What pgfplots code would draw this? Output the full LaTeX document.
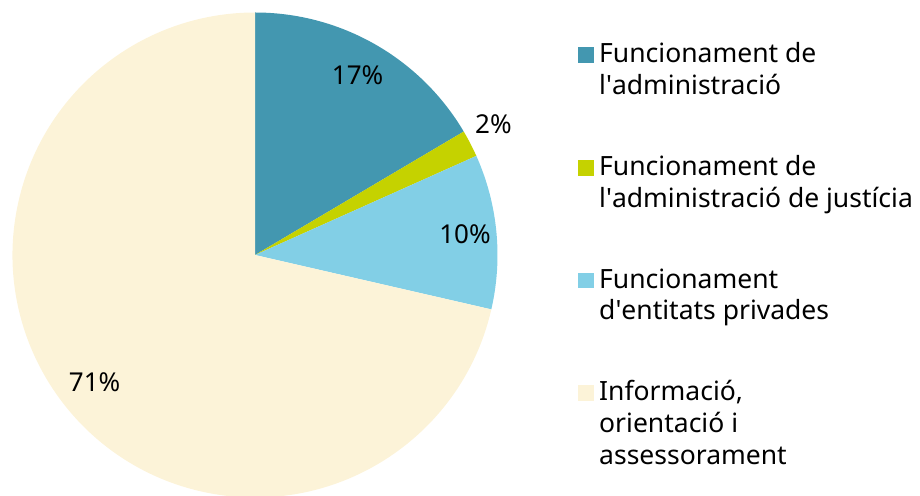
\documentclass[border=0pt]{standalone}
\usepackage{fontspec}
\setmainfont{Noto Sans}
\usepackage{pgfplots}
\pgfplotsset{compat=1.18}

\definecolor{cAdm}{HTML}{4397B0}
\definecolor{cJus}{HTML}{C5D200}
\definecolor{cPriv}{HTML}{82CFE6}
\definecolor{cInfo}{HTML}{FCF3D8}

\newcommand{\lbl}{\fontsize{26}{31.6}\selectfont}
\newcommand{\leg}{\fontsize{26.5}{31.6}\selectfont}
\newcommand{\q}{\textquotesingle}

% #1 start (%), #2 value (%), #3 colour, #4 label radius, #5 label angle shift, #6 label
\newcommand{\pieslice}[6]{%
  \fill[#3] (axis cs:255,240) -- ++({90-3.6*(#1)}:242.5pt)
    arc[start angle={90-3.6*(#1)}, end angle={90-3.6*((#1)+(#2))}, radius=242.5pt] -- cycle;
  \path (axis cs:255,240) ++({90-3.6*((#1)+(#2)/2)+(#5)}:#4pt)
    node[font=\lbl, inner sep=0pt] {#6};
}

% #1 baseline of first line (px from top), #2 colour
\newcommand{\legbox}[2]{%
  \fill[#2] (axis cs:578,{495-#1}) rectangle (axis cs:593.5,{495-#1+15.5});
}
% #1 baseline (px from top), #2 text
\newcommand{\legline}[2]{%
  \node[font=\leg, inner sep=0pt, anchor=base west] at (axis cs:599,{495-#1}) {#2};
}

\begin{document}
\begin{tikzpicture}
\begin{axis}[
    x=1pt, y=1pt,
    scale only axis,
    xmin=0, xmax=920,
    ymin=0, ymax=495,
    hide axis,
    clip=true,
]
\pieslice{0}{16.5}{cAdm}{207}{0}{17\%}
\pieslice{16.5}{1.8}{cJus}{272}{1.4}{2\%}
\pieslice{18.3}{10.3}{cPriv}{211}{0}{10\%}
\pieslice{28.6}{71.4}{cInfo}{205}{0}{71\%}

\legbox{63}{cAdm}
\legline{63}{Funcionament de}
\legline{94.6}{l\q administració}
\legbox{175.7}{cJus}
\legline{175.7}{Funcionament de}
\legline{207.3}{l\q administració de justícia}
\legbox{288.4}{cPriv}
\legline{288.4}{Funcionament}
\legline{320}{d\q entitats privades}
\legbox{401}{cInfo}
\legline{401}{Informació,}
\legline{432.6}{orientació i}
\legline{464.2}{assessorament}
\end{axis}
\pgfresetboundingbox
\path[use as bounding box] (current axis.south west) rectangle (current axis.north east);
\end{tikzpicture}
\end{document}
